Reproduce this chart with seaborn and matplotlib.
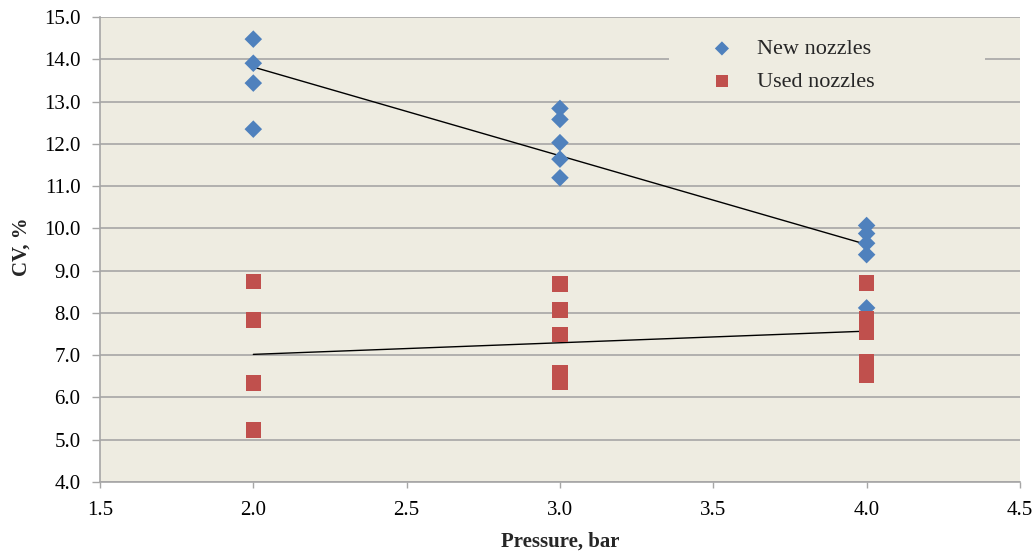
import numpy as np
import pandas as pd
import matplotlib
matplotlib.use("Agg")
import matplotlib.pyplot as plt
from matplotlib.patches import Rectangle
import seaborn as sns

# Data
new_pressure = [2.0, 2.0, 2.0, 2.0, 3.0, 3.0, 3.0, 3.0, 3.0, 4.0, 4.0, 4.0, 4.0, 4.0]
new_cv = [14.48, 13.91, 13.44, 12.35, 12.84, 12.58, 12.03, 11.64, 11.20, 10.07, 9.88, 9.65, 9.38, 8.12]
used_pressure = [2.0, 2.0, 2.0, 2.0, 3.0, 3.0, 3.0, 3.0, 3.0, 4.0, 4.0, 4.0, 4.0, 4.0]
used_cv = [8.75, 7.83, 6.34, 5.23, 8.68, 8.07, 7.49, 6.58, 6.37, 8.71, 7.86, 7.55, 6.84, 6.53]
trend_x = [2.0, 4.0]
trend_new = [13.82, 9.62]
trend_used = [7.02, 7.57]
series_names = ["New nozzles", "Used nozzles"]
x_ticks = [1.5, 2.0, 2.5, 3.0, 3.5, 4.0, 4.5]
y_ticks = [4.0, 5.0, 6.0, 7.0, 8.0, 9.0, 10.0, 11.0, 12.0, 13.0, 14.0, 15.0]

new_df = pd.DataFrame({"Pressure": new_pressure, "CV": new_cv})
used_df = pd.DataFrame({"Pressure": used_pressure, "CV": used_cv})

sns.set_style("white")
plt.rcParams["font.family"] = ["Liberation Serif", "DejaVu Serif"]

BG = "#EEECE1"
GRID = "#A6A6A6"

fig = plt.figure(figsize=(10.36, 5.54), dpi=100)
ax = fig.add_axes([0.0965, 0.130, 0.888, 0.839])
ax.set_facecolor(BG)

ax.set_ylim(4.0, 15.0)
ax.set_xlim(1.5, 4.5)
ax.set_yticks(y_ticks)
ax.set_xticks(x_ticks)
ax.yaxis.grid(True, color=GRID, linewidth=1.2, zorder=0)
ax.xaxis.grid(False)
ax.set_axisbelow(True)

# legend background box (covers gridline as in reference)
ax.add_patch(Rectangle((0.619, 0.835), 0.343, 0.135, transform=ax.transAxes,
                       facecolor=BG, edgecolor="none", zorder=1.5))

# trend lines
sns.lineplot(x=trend_x, y=trend_new, ax=ax, color="black", linewidth=1.0, zorder=2)
sns.lineplot(x=trend_x, y=trend_used, ax=ax, color="black", linewidth=1.0, zorder=2)

sns.scatterplot(data=new_df, x="Pressure", y="CV", marker="D", color="#4F81BD",
                s=80, edgecolor="none", linewidth=0, ax=ax, zorder=3,
                label=series_names[0])
sns.scatterplot(data=used_df, x="Pressure", y="CV", marker="s", color="#C0504D",
                s=125, edgecolor="none", linewidth=0, ax=ax, zorder=3,
                label=series_names[1])

ax.set_yticklabels([f"{v:.1f}" for v in y_ticks], fontsize=15)
ax.set_xticklabels([f"{v:.1f}" for v in x_ticks], fontsize=15)
ax.set_xlabel("Pressure, bar", fontsize=15, fontweight="bold", labelpad=8)
ax.set_ylabel("CV, %", fontsize=15, fontweight="bold")
ax.yaxis.set_label_coords(-0.074, 0.507)

for side in ["top", "right"]:
    ax.spines[side].set_visible(False)
for side in ["left", "bottom"]:
    ax.spines[side].set_color(GRID)
    ax.spines[side].set_linewidth(1.2)
ax.tick_params(axis="y", which="major", direction="out", length=6, width=1.0,
               color=GRID, left=True, labelcolor="black", pad=8)
ax.tick_params(axis="x", which="major", direction="out", length=4, width=1.0,
               color=GRID, bottom=True, labelcolor="black", pad=10)

handles, labels = ax.get_legend_handles_labels()
leg = ax.legend(handles=handles, labels=labels, loc="upper left",
                bbox_to_anchor=(0.6507, 0.968), frameon=False, fontsize=16,
                handlelength=1.5, handletextpad=0.83, borderpad=0.3,
                labelspacing=0.55, borderaxespad=0)
leg.legend_handles[0].set_sizes([52])
leg.legend_handles[1].set_sizes([72])
leg.set_zorder(4)

fig.savefig("out.png", dpi=100, facecolor="white")
